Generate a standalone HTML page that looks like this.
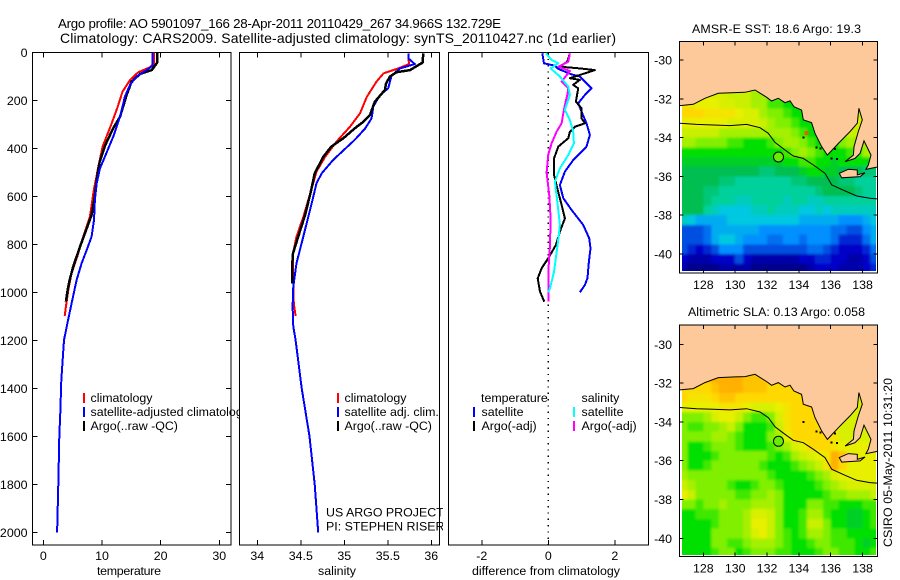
<!DOCTYPE html>
<html>
<head>
<meta charset="utf-8">
<title>Argo profile</title>
<style>
html,body{margin:0;padding:0;background:#fff;}
svg{display:block;font-family:"Liberation Sans",sans-serif;font-size:12.4px;fill:#000;}
</style>
</head>
<body>
<svg id="figure" xmlns="http://www.w3.org/2000/svg" width="900" height="580" viewBox="0 0 900 580">
<defs>
<clipPath id="leg1"><rect x="32" y="380" width="207" height="60"/></clipPath>
<clipPath id="leg2"><rect x="240" y="380" width="203" height="160"/></clipPath>
<clipPath id="data1"><rect x="682" y="41" width="194" height="230"/></clipPath>
<clipPath id="data2"><rect x="682" y="325" width="194" height="230"/></clipPath>
<clipPath id="frame1"><rect x="679" y="41" width="198" height="232"/></clipPath>
<clipPath id="frame2"><rect x="679" y="325" width="198" height="232"/></clipPath>
<filter id="soften" x="-5%" y="-5%" width="110%" height="110%"><feGaussianBlur stdDeviation="1.2"/></filter>
</defs>
<rect width="900" height="580" fill="#fff"/>
<text x="58" y="28" font-size="13.3" textLength="443">Argo profile: AO 5901097_166 28-Apr-2011 20110429_267 34.966S 132.729E</text>
<text x="60" y="43" font-size="14" textLength="556">Climatology: CARS2009. Satellite-adjusted climatology: synTS_20110427.nc (1d earlier)</text>
<text x="692" y="33" textLength="169">AMSR-E SST: 18.6  Argo: 19.3</text>
<text x="688" y="316" textLength="177">Altimetric SLA: 0.13  Argo: 0.058</text>
<text transform="translate(892,547) rotate(-90)" textLength="169">CSIRO 05-May-2011 10:31:20</text>
<text x="97" y="575" textLength="64">temperature</text>
<text x="318" y="575" textLength="38">salinity</text>
<text x="472" y="575" textLength="148">difference from climatology</text>
<g id="plots"></g>
<g id="maps"></g>
<g clip-path="url(#leg1)">
<rect x="83" y="393" width="2" height="10" fill="#f00"/>
<rect x="83" y="407" width="2" height="10" fill="#00f"/>
<rect x="83" y="421" width="2" height="10" fill="#000"/>
<text x="90.5" y="402">climatology</text>
<text x="90.5" y="416">satellite-adjusted climatology</text>
<text x="90.5" y="430">Argo(..raw -QC)</text>
</g>
<g clip-path="url(#leg2)">
<rect x="337" y="393" width="2" height="10" fill="#f00"/>
<rect x="337" y="407" width="2" height="10" fill="#00f"/>
<rect x="337" y="421" width="2" height="10" fill="#000"/>
<text x="344.5" y="402">climatology</text>
<text x="344.5" y="416">satellite adj. clim.</text>
<text x="344.5" y="430">Argo(..raw -QC)</text>
<text x="326" y="516.5">US ARGO PROJECT</text>
<text x="326" y="530.5">PI: STEPHEN RISER</text>
</g>
<g>
<text x="481" y="402">temperature</text>
<rect x="473" y="407" width="2" height="10" fill="#00f"/>
<text x="481.5" y="416">satellite</text>
<rect x="473" y="421" width="2" height="10" fill="#000"/>
<text x="481.5" y="430">Argo(-adj)</text>
<text x="581.5" y="402">salinity</text>
<rect x="573" y="407" width="2" height="10" fill="#0ff"/>
<text x="581.5" y="416">satellite</text>
<rect x="573" y="421" width="2" height="10" fill="#f0f"/>
<text x="581.5" y="430">Argo(-adj)</text>
</g>
</svg>
<script>
// ---- temperature panel ----
const climTempDepth=[1,46,62,83,115,164,233,296,393,476,574,685,768,851,921,990,1060,1099];
const climTemp=[18.86,18.9,18.2,16.2,14.8,13.5,12.6,11.65,10.1,9.4,8.6,7.95,6.8,5.8,4.8,4.26,3.86,3.64];
const argoTempDepth=[1,43,74,90,122,178,269,317,390,462,532,615,678,734,810,893,955,997,1039];
const argoTemp=[19.4,19.4,18.5,16.5,15.05,14.2,13.07,11.9,10.5,9.55,9.1,8.7,8.24,7.4,6.25,5.1,4.43,4.1,3.86];
const adjTempDepth=[1,57,74,101,136,185,269,351,435,483,546,615,699,768,817,879,949,1046,1129,1199,1367,1500,1600,1800,2000];
const adjTemp=[18.58,18.58,17.6,15.9,14.77,13.9,13.07,11.93,10.5,9.66,9.1,8.8,8.64,8.24,7.5,6.53,5.68,4.83,4.1,3.52,3.07,2.9,2.73,2.56,2.35];
// ---- salinity panel ----
const climSalDepth=[4,49,67,88,122,185,254,310,372,435,497,574,685,768,838,921,1046,1099];
const climSal=[35.736,35.743,35.62,35.45,35.37,35.26,35.18,35.065,34.91,34.78,34.68,34.62,34.53,34.45,34.41,34.41,34.42,34.44];
const argoSalDepth=[4,43,74,83,101,129,157,206,261,289,317,358,393,435,504,574,678,768,838,893,963];
const argoSal=[35.908,35.9,35.755,35.6,35.525,35.48,35.467,35.35,35.295,35.22,35.12,34.99,34.85,34.76,34.66,34.62,34.55,34.47,34.41,34.4,34.4];
const adjSalDepth=[4,25,49,67,97,150,178,226,275,317,365,448,504,546,629,740,879,976,1060,1143,1199,1400,1600,1800,2000];
const adjSal=[35.736,35.736,35.81,35.64,35.544,35.505,35.41,35.333,35.314,35.24,35.12,34.874,34.74,34.68,34.625,34.548,34.45,34.414,34.406,34.414,34.44,34.51,34.6,34.66,34.7];
// ---- difference panel ----
const satTDiffDepth=[4,46,56,69,92,101,150,178,212,247,296,344,393,449,497,553,608,657,719,775,817,872,941,969,1000];
const satTDiff=[-0.18,-0.13,0.2,0.3,0.7,0.95,1.3,1.1,0.9,1.0,1.15,1.25,1.15,0.75,0.5,0.35,0.45,0.7,1.05,1.23,1.27,1.22,1.18,1.1,0.95];
const argoTDiffDepth=[4,39,60,67,74,81,108,115,136,150,206,233,275,296,310,331,358,393,442,511,567,636,692,747,803,858,900,942,997,1039];
const argoTDiff=[0.65,0.57,0.35,0.95,1.4,1.25,0.65,0.95,0.75,0.9,0.83,1.0,1.0,1.1,0.8,0.65,0.6,0.3,0.17,0.17,0.27,0.4,0.5,0.35,0.23,0,-0.2,-0.32,-0.25,-0.12];
const satSDiffDepth=[4,32,46,67,101,143,178,240,282,331,379,428,483,539,622,719,803,914,983,1000];
const satSDiff=[-0.07,0.1,0.3,0.07,0.35,0.6,0.65,0.5,0.65,0.75,0.77,0.6,0.35,0.2,0.27,0.35,0.28,0.17,0.05,0];
const argoSDiffDepth=[4,39,53,60,78,122,150,178,219,254,296,331,379,425,501,597,692,803,914,1039];
const argoSDiff=[0.65,0.6,0.4,0.3,0.65,0.4,0.6,0.57,0.5,0.45,0.4,0.25,0.1,0,-0.05,0.03,0.07,0.05,0,0];
// ---- tick labels ----
const depthTicks=[0,200,400,600,800,1000,1200,1400,1600,1800,2000];
const tempTicks=[0,10,20,30];
const salTicks=[34,34.5,35,35.5,36];
const diffTicks=[-2,0,2];
const lonTicks=[128,130,132,134,136,138];
const latTicks=[30,32,34,36,38,40];
// ---- map grids: colour-index per 0.5 degree cell ----
const gridLons=[126.75,127.25,127.75,128.25,128.75,129.25,129.75,130.25,130.75,131.25,131.75,132.25,132.75,133.25,133.75,134.25,134.75,135.25,135.75,136.25,136.75,137.25,137.75,138.25,138.75];
const gridLats=[31.25,31.75,32.25,32.75,33.25,33.75,34.25,34.75,35.25,35.75,36.25,36.75,37.25,37.75,38.25,38.75,39.25,39.75,40.25,40.75];
const sstGrid=[
[10,10,10,10,9.5,9.5,9,9,9,8.5,8.5,8,8,7,7,7,7,7,7,7,7,7,7,7,7],
[10,10,10,10,9.5,9.5,9,9,9,8.5,8.5,8,8,7,7,7,7,7,7,7,7,7,7,7,7],
[10.5,10.5,10,10,10,9.5,9.5,9,9,8.5,8.5,7.5,7.5,7,7,7,7,7,7,7,7,7,9,9,9],
[11,11,11,10.5,10.5,10.5,10.5,10,9.5,9.5,8.5,8,8,7.5,7,7,7,7,7,7,8,8,9,9,9],
[10,10,10,10,10,10,9.5,9.5,9.5,9.5,9,8.5,8,8,7.5,7,7,7,7,7,8,8.5,9.5,9,9],
[9,9,9,9,9,8.5,8.5,8.5,8.5,8.5,8.5,8.5,8.5,8.5,8,7.5,7,7,7,8,8.5,9,9,9,9],
[8.5,8.5,8,8,8,8,7.5,7.5,7,7,7,7.5,8,8.5,8.5,8,7.5,7,7,7,8,8.5,8,8.5,9],
[7,7,7,7,7,7,7,7,7,7,7,7,7,7.5,8,8.5,8,7.5,7,7,7,7.5,7.5,8.5,9],
[6.5,6.5,6.5,6.5,6.5,6.5,6.5,6.5,6.5,6.5,6.5,6.5,6.5,7,7,7.5,7.5,7,7,6.5,7,7,7,7,6],
[6,6,6,6,6,6,6,6,6,6,5.5,5.5,6,6,6,6.5,7,7,6.5,6.5,6,6,6,5.5,5.5],
[6,6,6,6,6,5.5,5.5,5,5,5,5,5,5,5,5.5,5.5,6,6,6,6,5.5,5.5,5,5,5],
[6,6,6,5.5,5.5,5,5,5,5,5,5,5,5,5,5,5,5,5.5,6,6,6,6,5.5,5,5],
[6,6,6,5.5,5,5,5,4.5,4.5,5,5,5,5,4.5,5,5,4.5,4.5,5,5,5,5,5,5,5],
[6,6,6,5,4.5,4,4,4,4,4.5,4.5,5,4.5,4.5,4.5,4,4,4.5,4,4.5,4.5,4.5,4.5,4.5,4.5],
[4.5,4,3.5,3.5,3.5,3.5,4,4,4,4,4,4,4,4,4,3.5,3.5,3.5,3.5,3.5,3,3,3,3.5,4],
[2,2,2,2.5,3.5,3.5,3.5,3.5,3.5,3.5,3,3,3,3,3,3,3,3,3,2.5,2.5,2,2,3,3.5],
[2,2,2,2.5,3.5,4,4,3.5,3,3,3,2.5,2.5,3,3,2.5,3,3,3,2.5,1.5,1.5,1.5,2.5,3.5],
[2,1.5,1,1.5,2,3,3,3,2,2,2,2,2,2,2,2,2.5,2.5,2,1.5,1,1,1,1.5,2.5],
[1,0.5,0.5,0.5,1,1,1,2,1,0.5,0.5,0.5,0.5,0.5,0.5,1,1,1.5,1.5,1,1,0.5,0.5,1,2],
[0.5,0,0,0,0,0.5,0.5,0.5,0.5,0,0,0,0,0,0,0,0.5,1,1,1,0.5,0.5,0.5,1,1.5]
];
const slaGrid=[
[11.5,11.5,11.5,11.5,12,12,12,12,11.5,11.5,11.5,11,11,11,11,11,11,11,11,10,9.5,9.5,9.5,9.5,9.5],
[11.5,11.5,11.5,11.5,12,12,12,12,11.5,11.5,11.5,11,11,11,11,11,11,11,11,10,9.5,9.5,9.5,9.5,9.5],
[11,11,11,11,11.5,12,12,12,11.5,11.5,11.5,11,11,11,11,11,11,11,11,10,9.5,9.5,9.5,9.5,9.5],
[11,10.5,10.5,10.5,11,11.5,11.5,11,11,11,11,11,11,11,11,11,11,10.5,10.5,10,9.5,9.5,9.5,9.5,9.5],
[10,10,10,10,10,10.5,10.5,10.5,10,9.5,9.5,9.5,10,10.5,11,11,11,11,11,11,10,9.5,9.5,9.5,9.5],
[8,8,8,8.5,9.5,10,10,9,8,7.5,7.5,8,9.5,10.5,11,11,11,11,11,10.5,9.5,9.5,9.5,9.5,9.5],
[8,7.5,7.5,8,8,8.5,9,8,7,7,7,7.5,9,10.5,11,11,11,11,11,10,9.5,9.5,9.5,9.5,9.5],
[8,8,8,8,8.5,8.5,8,7.5,7,7,7,8,8.5,10,11,11,11,11,11,10.5,9.5,9.5,9.5,9.5,10],
[8,7,7,7.5,8,8,8,7.5,7,7,7,7.5,8,8.5,9.5,10,11,11,11,10.5,10,10,10,10,10],
[8,7,7,7,7.5,8,8,8,8,8,8,7.5,7,7.5,8.5,9,9.5,10,10.5,12,11.5,10,10,10,10],
[8,7,7,7.5,8,8,8,8,8,8,7.5,7,7,7,7.5,8,8.5,9,10.5,12,11,10,10,10,10],
[8.5,8,8,8,8,8,8,8,8,8,8,7.5,7,7,7,7,7.5,8,8.5,9.5,10,10,10,10,10],
[9,8.5,8,8,8,8,7.5,7,7,7.5,8,8,7.5,7,7,7,7,7.5,8,8.5,9,9.5,9.5,9.5,9.5],
[10,9,8,8,8,8,8,7.5,7.5,8,8,8.5,8,7,7,7,7,7,7.5,8,8,8.5,8.5,8.5,9],
[8,8,7.5,8,8,8.5,8,8,8,8.5,8.5,8.5,8,7,7,7,8,8,7.5,7.5,7,7,7,7.5,7.5],
[7,7,7.5,7.5,7.5,8,8,8,8.5,9.5,9.5,9,8,7,7,7.5,8.5,8.5,7.5,7,7,6.5,6.5,7,7.5],
[7,7,7,7,7.5,8,8,8,8.5,10,10,9,8,7,7,7.5,9,9,8,7,7,6.5,6.5,7,7.5],
[7,7,7,7,8,8,8,8,8.5,9.5,10,9,8,7.5,7,7.5,8.5,8.5,8,7.5,7.5,7,7,7,7],
[7,7,7,7,8,8,7.5,7.5,8,8.5,8.5,8.5,8,7.5,7,7,7.5,8,8,7.5,7.5,7.5,7,6.5,7],
[7,7,7,7,7.5,8,8,7,7.5,8,8,8,7.5,7.5,7,7,7,7.5,8,8,7.5,7.5,7,7,7.5]
];
// ---- geography in lon/lat ----
const coastLon=[126.54,127.37,128.1,128.94,129.99,130.62,131.245,131.98,132.29,132.71,133.13,133.44,133.69,134.17,134.28,134.8,135.01,135.43,135.79,136.48,137.21,137.67,137.77,137.98,137.73,137.46,137.42,136.9,137.52,137.84,138.09,138.53,138.36,138.21,138.84,139.09];
const coastLat=[32.35,32.285,31.976,31.718,31.68,31.666,31.546,31.924,32.113,31.976,32.2,32.11,32.405,32.58,33.09,33.23,33.78,34.47,34.9,34.3,33.69,33.26,32.49,33.09,33.69,34.47,34.9,35.24,35.07,34.81,34.17,34.9,35.41,35.64,35.53,35.53];
const islandLon=[136.54,137.1,137.67,137.67,138.15,137.84,136.69];
const islandLat=[35.84,35.635,35.67,35.93,35.81,36.01,36.07];
const shelfLon=[126.54,127.58,128.63,129.68,130.72,131.56,132.08,132.5,133.13,133.65,134.28,134.91,135.64,136.06,136.9,137.63,138.46,138.95];
const shelfLat=[33.26,33.32,33.35,33.38,33.32,33.49,33.78,34.25,34.64,34.95,35.07,35.41,35.84,36.44,36.75,37.01,37.13,37.16];
const isletLon=[134.28,135.1,136.27,136.06,135.35,136.4];
const isletLat=[34.0,34.5,34.6,35.07,34.55,35.1];
const floatLon=132.72;
const floatLat=35.0;
const sstFloatIndex=7.8;
const slaFloatIndex=7.8;
const hotCellLon=134.49;
const hotCellLat=33.75;

const NS='http://www.w3.org/2000/svg';
const plots=document.getElementById('plots');
const mapsGroup=document.getElementById('maps');
function mk(parent,tag,attrs){
  const e=document.createElementNS(NS,tag);
  for(const k in attrs)e.setAttribute(k,attrs[k]);
  parent.appendChild(e);
  return e;
}
function tickLabel(parent,text,x,y,anchor){
  const el=mk(parent,'text',{x:x,y:y,'text-anchor':anchor});
  el.textContent=text;
  
  
  return el;
}
function tickMark(parent,x1,y1,x2,y2){
  const el=mk(parent,'line',{x1:x1,y1:y1,x2:x2,y2:y2,stroke:'#000','stroke-width':1,'shape-rendering':'crispEdges'});
  
  
}
function frame(parent,L,T,R,B,name){
  const el=mk(parent,'rect',{x:L,y:T,width:R-L,height:B-T,fill:'none',stroke:'#000','stroke-width':1.3,'shape-rendering':'crispEdges'});
  
  
}
const TOP=52.5,BOT=545;
const depthY=d=>52.3+0.24*d;
const tempX=v=>43.3+5.867*v;
const salX=v=>257.3+87*(v-34);
const diffX=v=>548.3+33.25*v;
function series(parent,xs,ds,xf,color,width,name){
  const pts=xs.map((v,i)=>xf(v).toFixed(1)+','+depthY(ds[i]).toFixed(1)).join(' ');
  const el=mk(parent,'polyline',{points:pts,fill:'none',stroke:color,'stroke-width':width,'shape-rendering':'crispEdges','stroke-linejoin':'round'});
  
  
}
function panel(name,L,R,ticks,xf,fmt,withDepth){
  const g=mk(plots,'g',{});
  
  
  ticks.forEach(t=>{
    const x=xf(t);
    tickMark(g,x,TOP,x,TOP+5);
    tickMark(g,x,BOT,x,BOT-5);
    tickLabel(g,fmt(t),x,560,'middle');
  });
  if(withDepth)depthTicks.forEach(d=>{
    const y=depthY(d);
    tickMark(g,L,y,L+5,y);
    tickMark(g,R,y,R-5,y);
    tickLabel(g,String(d),27.5,y+4.5,'end');
  });
  frame(g,L,TOP,R,BOT,name+'-frame');
  return g;
}
const p1=panel('temperature-panel',32.5,231,tempTicks,tempX,String,true);
series(p1,climTemp,climTempDepth,tempX,'#f00',2,'climatology-temperature-line');
series(p1,argoTemp,argoTempDepth,tempX,'#000',2.5,'argo-temperature-line');
series(p1,adjTemp,adjTempDepth,tempX,'#00f',2,'adjusted-temperature-line');
const p2=panel('salinity-panel',239.5,439.5,salTicks,salX,String,false);
series(p2,climSal,climSalDepth,salX,'#f00',2,'climatology-salinity-line');
series(p2,adjSal,adjSalDepth,salX,'#00f',2,'adjusted-salinity-line');
series(p2,argoSal,argoSalDepth,salX,'#000',2.5,'argo-salinity-line');
const p3=panel('difference-panel',448.5,648.5,diffTicks,diffX,String,false);
const zero=mk(p3,'line',{x1:diffX(0),y1:TOP,x2:diffX(0),y2:BOT,stroke:'#000','stroke-width':1.3,'stroke-dasharray':'1.3 5','shape-rendering':'crispEdges'});


series(p3,satTDiff,satTDiffDepth,diffX,'#00f',2,'satellite-temperature-difference-line');
series(p3,argoTDiff,argoTDiffDepth,diffX,'#000',2,'argo-temperature-difference-line');
series(p3,argoSDiff,argoSDiffDepth,diffX,'#f0f',2,'argo-salinity-difference-line');
series(p3,satSDiff,satSDiffDepth,diffX,'#0ff',2,'satellite-salinity-difference-line');

// ---- maps ----
const stops=[[0,0,140],[0,0,200],[0,80,224],[0,144,255],[0,200,224],[0,208,156],[0,190,80],[0,224,0],[128,240,0],[200,240,0],[232,240,0],[255,216,0],[255,176,0]];
function color(v){
  const i=Math.max(0,Math.min(stops.length-2,Math.floor(v)));
  const f=v-i;
  const a=stops[i],b=stops[i+1];
  return 'rgb('+[0,1,2].map(k=>Math.round(a[k]+(b[k]-a[k])*f)).join(',')+')';
}
const lonX=l=>703.3+(l-128)*15.93;
function drawMap(name,grid,lat30Y,L,T,R,B,clip,frameClip,floatIdx,showHot){
  const latY=l=>lat30Y+(l-30)*19.4;
  const g=mk(mapsGroup,'g',{});
  
  
  const clipGroup=mk(g,'g',{'clip-path':'url(#'+clip+')'});
  
  
  const cells=mk(clipGroup,'g',{filter:'url(#soften)'});
  
  
  grid.forEach((row,r)=>row.forEach((v,c)=>{
    const x0=lonX(gridLons[c]-0.25),x1=lonX(gridLons[c]+0.25),y0=latY(gridLats[r]-0.25),y1=latY(gridLats[r]+0.25);
    const el=mk(cells,'rect',{x:x0,y:y0,width:x1-x0+0.5,height:y1-y0+0.5,fill:color(v),'shape-rendering':'crispEdges'});
    
    
  }));
  const geo=mk(g,'g',{'clip-path':'url(#'+frameClip+')'});
  
  
  const coastPts=coastLon.map((l,i)=>lonX(l).toFixed(1)+','+latY(coastLat[i]).toFixed(1));
  const land=mk(geo,'polygon',{points:coastPts.join(' ')+' 890,'+T+' '+L+','+T,fill:'#fdc99a'});
  
  
  const coast=mk(geo,'polyline',{points:coastPts.join(' '),fill:'none',stroke:'#000','stroke-width':1});
  
  
  const island=mk(geo,'polygon',{points:islandLon.map((l,i)=>lonX(l).toFixed(1)+','+latY(islandLat[i]).toFixed(1)).join(' '),fill:'#fdc99a',stroke:'#000','stroke-width':1});
  
  
  const shelf=mk(geo,'polyline',{points:shelfLon.map((l,i)=>lonX(l).toFixed(1)+','+latY(shelfLat[i]).toFixed(1)).join(' '),fill:'none',stroke:'#000','stroke-width':1});
  
  
  isletLon.forEach((l,i)=>{
    const dot=mk(geo,'rect',{x:lonX(l)-1,y:latY(isletLat[i])-1,width:2,height:2,fill:'#000','shape-rendering':'crispEdges'});
    
    
  });
  if(showHot){
    const hot=mk(geo,'rect',{x:lonX(hotCellLon)-2,y:latY(hotCellLat)-2,width:4,height:4,fill:'#e06000','shape-rendering':'crispEdges'});
    
    
  }
  const mark=mk(g,'circle',{cx:lonX(floatLon),cy:latY(floatLat),r:5,fill:color(floatIdx),stroke:'#000','stroke-width':1});
  
  
  lonTicks.forEach(t=>{
    const x=lonX(t);
    tickMark(g,x,T,x,T+4);
    tickMark(g,x,B,x,B-4);
    tickLabel(g,String(t),x,B+16,'middle');
  });
  latTicks.forEach(t=>{
    const y=latY(t);
    tickMark(g,L,y,L+4,y);
    tickMark(g,R,y,R-4,y);
    tickLabel(g,String(t===0?0:-t),672,y+4.5,'end');
  });
  frame(g,L,T,R,B,name+'-frame');
}
drawMap('sst-map',sstGrid,60,679.5,41.5,877.5,273,'data1','frame1',sstFloatIndex,true);
drawMap('sla-map',slaGrid,344.3,679.5,325,877.5,556.5,'data2','frame2',slaFloatIndex,false);
</script>
</body>
</html>
